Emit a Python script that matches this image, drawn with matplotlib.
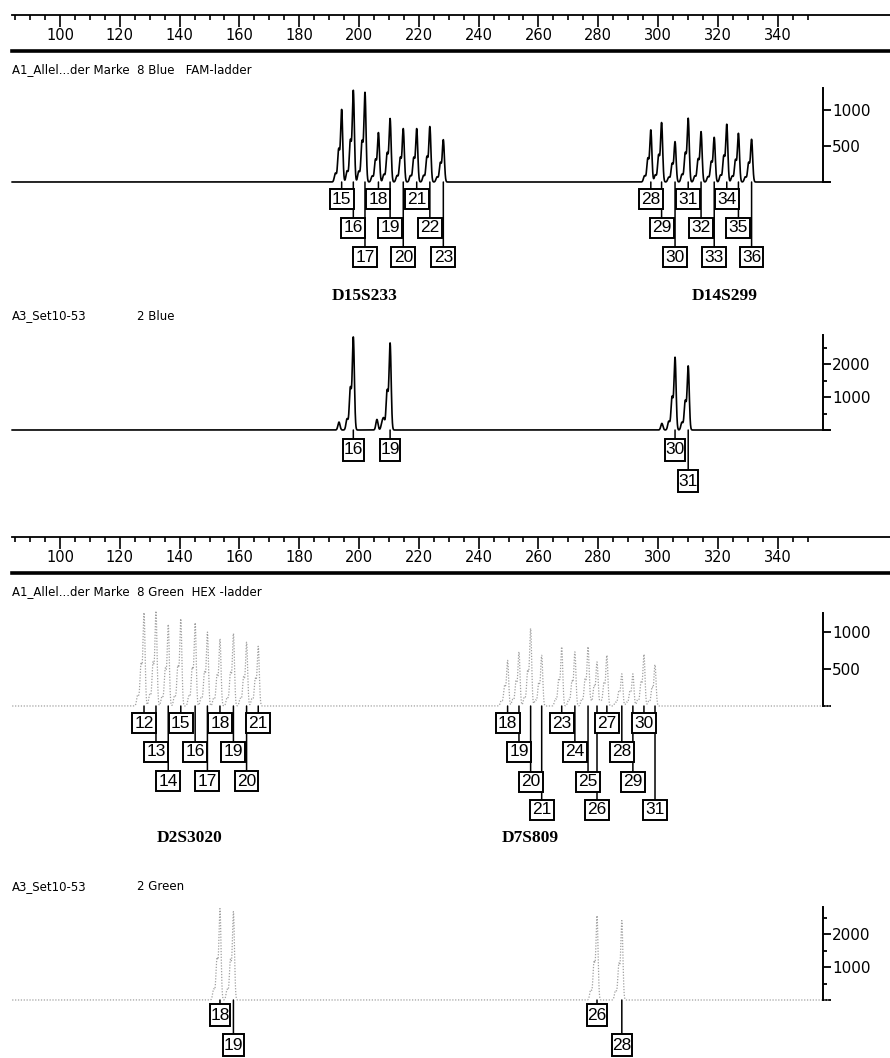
import numpy as np
import matplotlib
matplotlib.use("Agg")
import matplotlib.pyplot as plt
from matplotlib.path import Path

# ---- data (sizes in bp, heights in RFU) ----
ruler_labels = list(range(100, 341, 20))
ruler_ticks = list(range(85, 351, 5))

# ladder, blue (FAM)
d15_alleles = ["15", "16", "17", "18", "19", "20", "21", "22", "23"]
d15_bp = [194.2, 198.1, 202.0, 206.5, 210.4, 214.8, 219.3, 223.7, 228.2]
d15_rfu = [1000, 1264, 1236, 681, 875, 736, 736, 764, 583]
d14_alleles = ["28", "29", "30", "31", "32", "33", "34", "35", "36"]
d14_bp = [297.6, 301.2, 305.7, 310.1, 314.4, 318.8, 323.0, 326.9, 331.3]
d14_rfu = [718, 819, 556, 879, 694, 615, 796, 671, 588]

# sample, blue
blue_alleles = ["16", "19", "30", "31"]
blue_bp = [198.1, 210.4, 305.7, 310.1]
blue_rfu = [2800, 2620, 2190, 1930]
blue_noise_bp = [193.3, 206.0, 207.7, 301.3]
blue_noise_rfu = [240, 320, 200, 200]

# ladder, green (HEX)
d2_alleles = ["12", "13", "14", "15", "16", "17", "18", "19", "20", "21"]
d2_bp = [128.1, 132.1, 136.2, 140.4, 145.2, 149.3, 153.5, 158.0, 162.4, 166.3]
d2_rfu = [1253, 1274, 1095, 1171, 1117, 991, 901, 973, 855, 801]
d7_alleles = ["18", "19", "20", "21", "23", "24", "25", "26", "27", "28", "29", "30", "31"]
d7_bp = [249.7, 253.5, 257.4, 261.1, 267.8, 272.2, 276.6, 279.6, 282.9, 287.9, 291.6, 295.3, 299.0]
d7_rfu = [612, 726, 1041, 680, 793, 726, 793, 591, 680, 432, 432, 693, 554]

# sample, green
green_alleles = ["18", "19", "26", "28"]
green_bp = [153.5, 158.0, 279.6, 287.9]
green_rfu = [2750, 2660, 2540, 2390]

# peak shape: main peak plus -1 bp and -2 bp shoulders
stutter = [(0.0, 1.0), (-1.0, 0.45), (-2.1, 0.12)]
sigma = 0.35
scan_start, scan_end = 84.0, 357.5

# ---- layout helpers (pixels) ----
W, H = 890, 1058
PX0, BP0, PX_PER_BP = 60, 100, 2.99


def bp_at(px):
    return BP0 + (px - PX0) / PX_PER_BP


def add_axes_px(fig, left, right, top, bottom):
    ax = fig.add_axes([left / W, 1 - bottom / H, (right - left) / W, (bottom - top) / H])
    ax.set_xlim(bp_at(left), bp_at(right))
    return ax


def trace(x, pos, hts, shape=stutter):
    y = np.zeros_like(x)
    for p, h in zip(pos, hts):
        for off, frac in shape:
            y += h * frac * np.exp(-0.5 * ((x - p - off) / sigma) ** 2)
    return y


def make_box(padx, pady):
    def box(x0, y0, width, height, mutation_size):
        dx, dy = padx * mutation_size, pady * mutation_size
        xa, ya = x0 - dx, y0 - dy
        xb, yb = x0 + width + dx, y0 + height + dy
        return Path([(xa, ya), (xb, ya), (xb, yb), (xa, yb), (xa, ya)], closed=True)
    return box


wide_box = make_box(0.13, 0.14)
tall_box = make_box(0.03, 0.22)


def label_alleles(ax, pos, names, rows, row_px, narrow=False):
    for p, n, r in zip(pos, names, rows):
        if narrow:
            size, style = 12.5, tall_box
        else:
            size, style = 12.5, wide_box
        ax.annotate(n, xy=(p, 0), xytext=(0, -row_px[r]), textcoords="offset pixels",
                    ha="center", va="center", family="Liberation Sans", fontsize=size,
                    bbox=dict(boxstyle=style, fc="white", ec="black", lw=1.4),
                    annotation_clip=False, zorder=10 - r,
                    arrowprops=dict(arrowstyle="-", lw=1.1, color="black",
                                    shrinkA=0, shrinkB=0, relpos=(0.5, 1.0)))


def style_panel(ax, ymax, major, minor, labels):
    ax.set_ylim(0, ymax)
    for s in ["left", "top", "bottom"]:
        ax.spines[s].set_visible(False)
    ax.spines["right"].set_linewidth(1.4)
    ax.set_xticks([])
    ax.yaxis.tick_right()
    ax.set_yticks(major)
    ax.set_yticklabels(labels)
    ax.set_yticks(minor, minor=True)
    ax.tick_params(axis="y", which="major", direction="out", length=6, width=1.3,
                   pad=0.5, labelsize=11)
    ax.tick_params(axis="y", which="minor", direction="out", length=3, width=1.3)
    ax.patch.set_visible(False)


def ruler(fig, top):
    ax = add_axes_px(fig, 12, 890, top, top + 36)
    ax.set_ylim(0, 1)
    ax.spines["left"].set_visible(False)
    ax.spines["right"].set_visible(False)
    ax.spines["top"].set_linewidth(1.3)
    ax.spines["bottom"].set_linewidth(2.6)
    ax.set_yticks([])
    ax.xaxis.tick_top()
    ax.set_xticks(ruler_labels)
    ax.set_xticks([t for t in ruler_ticks if t not in ruler_labels], minor=True)
    ax.tick_params(axis="x", which="major", direction="in", length=8.5, width=1.2,
                   labeltop=False, labelbottom=False)
    ax.tick_params(axis="x", which="minor", direction="in", length=3.8, width=1.2)
    for v in ruler_labels:
        ax.text(v, 0.42, str(v), ha="center", va="center", fontsize=10.5)


def ftext(px, py, s, **kw):
    fig.text(px / W, 1 - py / H, s, **kw)


locus_font = dict(family="Liberation Serif", weight="bold", fontsize=12.5,
                  ha="center", va="center")

fig = plt.figure(figsize=(W / 100, H / 100), dpi=100)
x = np.arange(scan_start, scan_end, 0.02)
blue = "black"
green = "#a0a0a0"

# ---- blue ladder ----
ruler(fig, 15)
ftext(12, 70, "A1_Allel...der Marke  8 Blue   FAM-ladder", fontsize=8.5, va="center")
ax1 = add_axes_px(fig, 0, 823, 88, 182)
ax1.plot(x, trace(x, d15_bp + d14_bp, d15_rfu + d14_rfu), color=blue, lw=1.2, clip_on=False)
style_panel(ax1, 1305, [0, 500, 1000], [], ["", "500", "1000"])
label_alleles(ax1, d15_bp, d15_alleles, [i % 3 for i in range(9)], [17, 46, 75])
label_alleles(ax1, d14_bp, d14_alleles, [i % 3 for i in range(9)], [17, 46, 75])
ftext(365, 296, "D15S233", **locus_font)
ftext(725, 296, "D14S299", **locus_font)

# ---- blue sample ----
ftext(12, 316, "A3_Set10-53", fontsize=8.5, va="center")
ftext(137, 316, "2 Blue", fontsize=8.5, va="center")
ax2 = add_axes_px(fig, 0, 823, 335, 430)
y2 = trace(x, blue_bp, blue_rfu) + trace(x, blue_noise_bp, blue_noise_rfu, [(0.0, 1.0)])
ax2.plot(x, y2, color=blue, lw=1.2, clip_on=False)
style_panel(ax2, 2880, [0, 1000, 2000], [500, 1500, 2500], ["", "1000", "2000"])
label_alleles(ax2, blue_bp, blue_alleles, [0, 0, 0, 1], [20, 51], narrow=True)

# ---- green ladder ----
ruler(fig, 537)
ftext(12, 592, "A1_Allel...der Marke  8 Green  HEX -ladder", fontsize=8.5, va="center")
ax3 = add_axes_px(fig, 0, 823, 613, 706)
ax3.plot(x, trace(x, d2_bp + d7_bp, d2_rfu + d7_rfu), color=green, lw=0.9,
         ls=(0, (1, 1.3)), clip_on=False)
style_panel(ax3, 1257, [0, 500, 1000], [], ["", "500", "1000"])
label_alleles(ax3, d2_bp, d2_alleles, [i % 3 for i in range(10)], [17, 46, 75])
label_alleles(ax3, d7_bp, d7_alleles, [0, 1, 2, 3, 0, 1, 2, 3, 0, 1, 2, 0, 3],
              [17, 46, 76, 104])
ftext(190, 838, "D2S3020", **locus_font)
ftext(530, 838, "D7S809", **locus_font)

# ---- green sample ----
ftext(12, 887, "A3_Set10-53", fontsize=8.5, va="center")
ftext(137, 887, "2 Green", fontsize=8.5, va="center")
ax4 = add_axes_px(fig, 0, 823, 907, 1000)
ax4.plot(x, trace(x, green_bp, green_rfu), color=green, lw=0.9, ls=(0, (1, 1.3)),
         clip_on=False)
style_panel(ax4, 2820, [0, 1000, 2000], [500, 1500, 2500], ["", "1000", "2000"])
label_alleles(ax4, green_bp, green_alleles, [0, 1, 0, 1], [15, 45], narrow=True)

fig.savefig("out.png", dpi=100)
